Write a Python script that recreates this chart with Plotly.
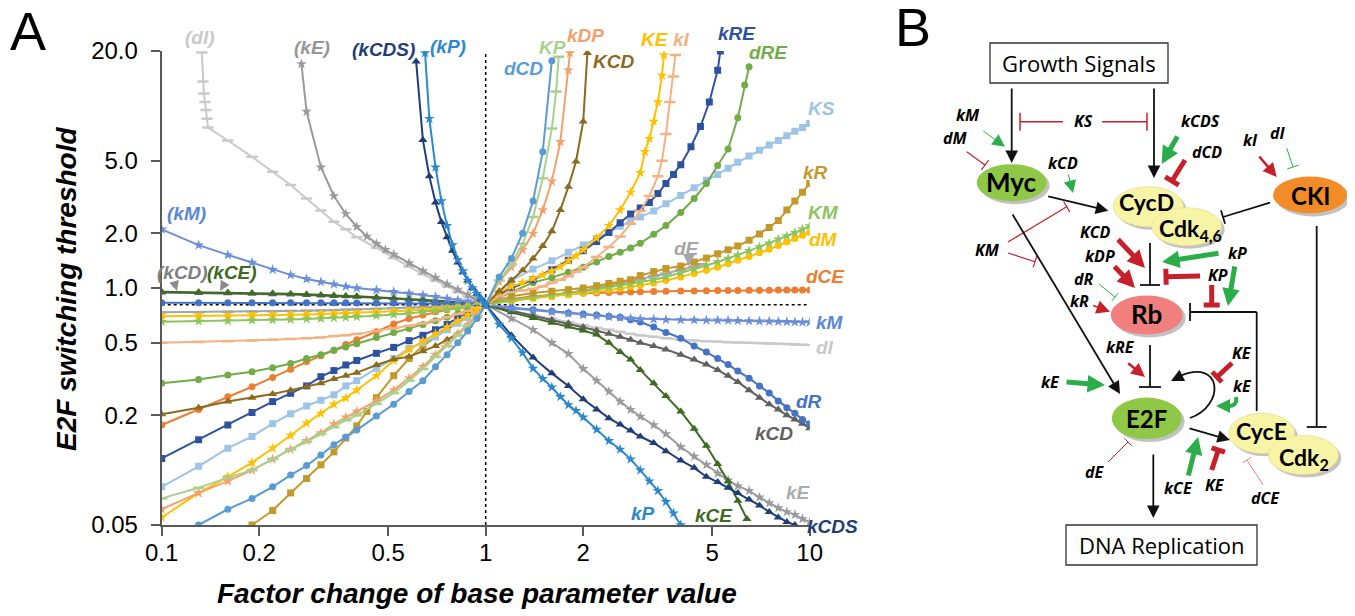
import math
import plotly.graph_objects as go

# the page body adds an 8px margin, so the figure is drawn 8px in from the window edge
OFF = 8
W, H = 1355 - OFF, 616 - OFF
def px(x): return (x - OFF) / W
def py(y): return 1 - (y - OFF) / H

# ---------------- data (panel A) ----------------
XL = [0.1, 0.13, 0.16, 0.19, 0.22, 0.25, 0.28, 0.31, 0.34, 0.37, 0.4, 0.46, 0.52, 0.58, 0.64, 0.7, 0.76, 0.82, 0.88, 0.94, 1.0]
XR = [1.0, 1.2, 1.4, 1.6, 1.8, 2.0, 2.2, 2.4, 2.6, 2.8, 3.0, 3.3, 3.6, 4.0, 4.4, 4.8, 5.2, 5.6, 6.0, 6.5, 7.0, 7.5, 8.0, 8.5, 9.0, 9.5, 10.0]

X_TICKS = [0.1, 0.2, 0.5, 1, 2, 5, 10]
X_TICK_TEXT = ["0.1", "0.2", "0.5", "1", "2", "5", "10"]
Y_TICKS = [0.05, 0.2, 0.5, 1, 2, 5, 20]
Y_TICK_TEXT = ["0.05", "0.2", "0.5", "1.0", "2.0", "5.0", "20.0"]
BASE_Y = 0.81

dCD_x = [0.13, 0.16, 0.19, 0.22, 0.25, 0.28, 0.31, 0.34, 0.37, 0.4, 0.46, 0.52, 0.58, 0.64, 0.7, 0.76, 0.82, 0.88, 0.94, 1.0,
         1.1, 1.2, 1.3, 1.4, 1.5, 1.6]
dCD_y = [0.05, 0.061, 0.07, 0.081, 0.094, 0.106, 0.121, 0.138, 0.152, 0.166, 0.198, 0.23, 0.27, 0.31, 0.37, 0.43, 0.50, 0.58, 0.68, 0.81,
         1.15, 1.45, 2.0, 3.0, 5.6, 17.7]

KP_x = XL + [1.1, 1.2, 1.3, 1.4, 1.5, 1.6, 1.65, 1.68]
KP_y = [0.07, 0.08, 0.091, 0.10, 0.115, 0.13, 0.143, 0.158, 0.172, 0.188, 0.20, 0.231, 0.265, 0.31, 0.36, 0.42, 0.48, 0.55, 0.62, 0.70, 0.81,
        1.1, 1.35, 1.75, 2.45, 4.0, 7.5, 12.0, 18.6]

kDP_x = XL + [1.1, 1.2, 1.3, 1.4, 1.5, 1.6, 1.7, 1.8, 1.82]
kDP_y = [0.061, 0.075, 0.087, 0.10, 0.115, 0.13, 0.145, 0.16, 0.179, 0.195, 0.21, 0.24, 0.275, 0.32, 0.37, 0.43, 0.49, 0.56, 0.63, 0.71, 0.81,
         1.08, 1.3, 1.62, 1.99, 2.68, 3.85, 6.35, 15.7, 19.5]

KCD_x = XL + [1.1, 1.2, 1.3, 1.4, 1.5, 1.6, 1.7, 1.8, 1.9, 2.0, 2.06]
KCD_y = [0.203, 0.22, 0.238, 0.25, 0.262, 0.275, 0.287, 0.30, 0.317, 0.33, 0.343, 0.378, 0.406, 0.42, 0.45, 0.48, 0.52, 0.56, 0.62, 0.70, 0.81,
         0.96, 1.1, 1.25, 1.45, 1.7, 2.05, 2.68, 3.6, 4.95, 8.2, 19.5]

KE_x = XL + [1.1, 1.2, 1.3, 1.4, 1.5, 1.6, 1.7, 1.8, 1.9, 2.0, 2.2, 2.4, 2.6, 2.8, 3.0, 3.1, 3.2, 3.3, 3.4, 3.5, 3.55]
KE_y = [0.055, 0.075, 0.092, 0.11, 0.132, 0.155, 0.181, 0.205, 0.23, 0.249, 0.275, 0.33, 0.40, 0.46, 0.51, 0.56, 0.61, 0.66, 0.71, 0.76, 0.81,
        0.95, 1.02, 1.07, 1.13, 1.18, 1.24, 1.31, 1.41, 1.5, 1.62, 1.88, 2.2, 2.68, 3.35, 4.3, 5.6, 6.6, 8.2, 10.5, 14.7, 19.0]

kI_x = XL + [1.1, 1.2, 1.3, 1.4, 1.5, 1.6, 1.7, 1.8, 1.9, 2.0, 2.2, 2.4, 2.6, 2.8, 3.0, 3.2, 3.4, 3.5, 3.6, 3.7, 3.8, 3.85]
kI_y = [0.50, 0.505, 0.51, 0.515, 0.52, 0.525, 0.53, 0.535, 0.545, 0.55, 0.56, 0.58, 0.60, 0.62, 0.64, 0.665, 0.69, 0.72, 0.75, 0.78, 0.81,
        0.9, 0.95, 0.97, 0.99, 1.02, 1.07, 1.11, 1.16, 1.23, 1.3, 1.48, 1.68, 1.92, 2.25, 2.65, 3.2, 4.1, 5.0, 7.0, 10.5, 14.5, 19.0]

kRE_x = XL + [1.1, 1.2, 1.4, 1.6, 1.8, 2.0, 2.2, 2.4, 2.6, 2.8, 3.0, 3.2, 3.4, 3.6, 3.8, 4.0, 4.3, 4.6, 4.9, 5.2, 5.3]
kRE_y = [0.116, 0.147, 0.177, 0.207, 0.238, 0.264, 0.29, 0.326, 0.352, 0.378, 0.40, 0.438, 0.472, 0.514, 0.55, 0.59, 0.63, 0.69, 0.73, 0.77, 0.81,
         0.92, 1.0, 1.11, 1.26, 1.42, 1.6, 1.8, 2.02, 2.28, 2.55, 2.75, 2.95, 3.3, 3.75, 4.2, 4.75, 5.96, 7.7, 10.5, 15.7, 20.0]

dRE_x = XL + [1.2, 1.4, 1.6, 1.8, 2.0, 2.2, 2.4, 2.6, 2.8, 3.0, 3.3, 3.6, 4.0, 4.4, 4.8, 5.2, 5.6, 6.0, 6.3, 6.5]
dRE_y = [0.30, 0.315, 0.333, 0.347, 0.365, 0.385, 0.41, 0.43, 0.455, 0.475, 0.495, 0.535, 0.57, 0.60, 0.63, 0.66, 0.69, 0.72, 0.75, 0.78, 0.81,
         0.95, 1.07, 1.14, 1.22, 1.3, 1.39, 1.49, 1.57, 1.66, 1.76, 1.97, 2.2, 2.6, 3.1, 3.75, 4.7, 5.8, 8.6, 13.0, 16.4]

KS_x = XL + XR[1:]
KS_y = [0.081, 0.105, 0.132, 0.153, 0.18, 0.204, 0.225, 0.242, 0.259, 0.29, 0.31, 0.362, 0.41, 0.466, 0.50, 0.54, 0.59, 0.64, 0.69, 0.75, 0.81,
        1.1, 1.27, 1.41, 1.57, 1.72, 1.87, 2.02, 2.18, 2.33, 2.45, 2.65, 2.9, 3.22, 3.55, 3.9, 4.2, 4.55, 4.9, 5.3, 5.7, 6.1, 6.45, 6.85, 7.25, 7.6, 8.0]

kR_x = [0.19, 0.22, 0.25, 0.28, 0.31, 0.34, 0.37, 0.4, 0.43, 0.46, 0.52, 0.58, 0.64, 0.7, 0.76, 0.82, 0.88, 0.94, 1.0] + XR[1:]
kR_y = [0.05, 0.06, 0.075, 0.09, 0.107, 0.126, 0.15, 0.175, 0.21, 0.25, 0.33, 0.41, 0.48, 0.54, 0.60, 0.65, 0.70, 0.75, 0.81,
        0.9, 0.94, 0.96, 0.98, 1.0, 1.03, 1.06, 1.09, 1.11, 1.17, 1.23, 1.28, 1.32, 1.39, 1.46, 1.54, 1.62, 1.7, 1.83, 1.98, 2.15, 2.35, 2.68, 3.0, 3.35, 3.75]

KM_x = XL + XR[1:]
KM_y = [0.653, 0.657, 0.66, 0.665, 0.668, 0.672, 0.676, 0.68, 0.685, 0.69, 0.695, 0.705, 0.715, 0.725, 0.74, 0.75, 0.765, 0.775, 0.79, 0.80, 0.81,
        0.86, 0.89, 0.91, 0.935, 0.96, 0.985, 1.01, 1.03, 1.055, 1.08, 1.11, 1.15, 1.21, 1.27, 1.33, 1.39, 1.45, 1.52, 1.6, 1.68, 1.76, 1.85, 1.93, 2.01, 2.1, 2.19]

dM_x = XL + XR[1:]
dM_y = [0.70, 0.702, 0.705, 0.708, 0.71, 0.713, 0.716, 0.72, 0.723, 0.727, 0.73, 0.738, 0.745, 0.752, 0.76, 0.768, 0.776, 0.784, 0.792, 0.80, 0.81,
        0.85, 0.875, 0.895, 0.915, 0.935, 0.955, 0.975, 0.995, 1.015, 1.035, 1.065, 1.1, 1.15, 1.2, 1.25, 1.3, 1.36, 1.42, 1.49, 1.56, 1.63, 1.71, 1.79, 1.87, 1.95, 2.02]

dCE_x = XL + XR[1:]
dCE_y = [0.177, 0.215, 0.253, 0.287, 0.323, 0.358, 0.395, 0.425, 0.455, 0.49, 0.52, 0.575, 0.635, 0.68, 0.71, 0.74, 0.76, 0.775, 0.79, 0.80, 0.81,
         0.87, 0.9, 0.915, 0.925, 0.935, 0.94, 0.945, 0.95, 0.952, 0.955, 0.958, 0.96, 0.962, 0.964, 0.966, 0.968, 0.969, 0.97, 0.971, 0.972, 0.973, 0.974, 0.974, 0.975, 0.975, 0.975]

dE_x = XL + [1.2, 1.4, 1.6, 1.8, 2.0, 2.2, 2.4, 2.6, 2.8, 3.0, 3.3, 3.6, 4.0, 4.4, 4.6]
dE_y = [0.735, 0.737, 0.74, 0.742, 0.745, 0.748, 0.75, 0.753, 0.756, 0.76, 0.763, 0.768, 0.774, 0.78, 0.785, 0.79, 0.795, 0.80, 0.803, 0.806, 0.81,
        0.85, 0.88, 0.91, 0.94, 0.97, 1.0, 1.03, 1.06, 1.09, 1.12, 1.16, 1.2, 1.26, 1.31, 1.35]

kM_x = XL + XR[1:]
kM_y = [2.1, 1.72, 1.52, 1.38, 1.26, 1.18, 1.12, 1.08, 1.05, 1.02, 1.0, 0.975, 0.955, 0.935, 0.915, 0.895, 0.875, 0.86, 0.845, 0.825, 0.81,
        0.775, 0.755, 0.74, 0.725, 0.712, 0.703, 0.695, 0.688, 0.682, 0.677, 0.673, 0.67, 0.668, 0.667, 0.666, 0.665, 0.664, 0.662, 0.66, 0.658, 0.656, 0.654, 0.652, 0.65, 0.649, 0.648]

dI_x = [0.133, 0.134, 0.135, 0.136, 0.137, 0.138, 0.139, 0.16, 0.19, 0.22, 0.25, 0.28, 0.31, 0.34, 0.37, 0.4, 0.46, 0.52, 0.58, 0.64, 0.7, 0.76, 0.82, 0.88, 0.94, 1.0] + XR[1:]
dI_y = [19.6, 13.6, 11.7, 10.5, 9.5, 8.5, 7.6, 6.45, 5.25, 4.35, 3.68, 3.1, 2.66, 2.31, 2.1, 1.9, 1.66, 1.46, 1.31, 1.19, 1.1, 1.02, 0.95, 0.9, 0.85, 0.81,
        0.75, 0.71, 0.68, 0.65, 0.625, 0.605, 0.59, 0.575, 0.56, 0.55, 0.54, 0.53, 0.52, 0.515, 0.51, 0.507, 0.504, 0.502, 0.50, 0.498, 0.496, 0.494, 0.492, 0.49, 0.488, 0.487]

dR_x = XL + XR[1:]
dR_y = [0.83, 0.83, 0.83, 0.83, 0.83, 0.83, 0.83, 0.83, 0.83, 0.829, 0.828, 0.827, 0.826, 0.825, 0.823, 0.821, 0.819, 0.817, 0.815, 0.812, 0.81,
        0.78, 0.76, 0.745, 0.73, 0.72, 0.71, 0.70, 0.69, 0.67, 0.65, 0.61, 0.57, 0.53, 0.48, 0.445, 0.41, 0.38, 0.35, 0.32, 0.29, 0.265, 0.24, 0.22, 0.205, 0.19, 0.18]

kCD_x = XL + XR[1:]
kCD_y = [0.945, 0.94, 0.935, 0.93, 0.925, 0.92, 0.915, 0.91, 0.905, 0.90, 0.895, 0.885, 0.875, 0.865, 0.858, 0.85, 0.84, 0.83, 0.822, 0.815, 0.81,
         0.75, 0.705, 0.67, 0.64, 0.61, 0.585, 0.56, 0.54, 0.52, 0.50, 0.48, 0.46, 0.43, 0.405, 0.38, 0.355, 0.33, 0.305, 0.275, 0.25, 0.23, 0.215, 0.20, 0.19, 0.18, 0.17]

kE_x = [0.27, 0.28, 0.31, 0.34, 0.37, 0.4, 0.43, 0.46, 0.49, 0.52, 0.58, 0.64, 0.7, 0.76, 0.82, 0.88, 0.94, 1.0] + XR[1:]
kE_y = [17.0, 9.3, 4.6, 3.2, 2.55, 2.17, 1.92, 1.75, 1.62, 1.53, 1.37, 1.24, 1.14, 1.05, 0.98, 0.92, 0.86, 0.81,
        0.68, 0.59, 0.50, 0.435, 0.36, 0.31, 0.27, 0.238, 0.215, 0.197, 0.177, 0.158, 0.134, 0.119, 0.107, 0.096, 0.088, 0.082, 0.077, 0.071, 0.066, 0.062, 0.059, 0.057, 0.054, 0.052]

kCE_x = XL + [1.2, 1.4, 1.6, 1.8, 2.0, 2.2, 2.4, 2.6, 2.8, 3.0, 3.3, 3.6, 4.0, 4.4, 4.8, 5.2, 5.6, 6.0, 6.4]
kCE_y = [0.955, 0.95, 0.945, 0.94, 0.935, 0.93, 0.925, 0.915, 0.91, 0.905, 0.9, 0.89, 0.88, 0.87, 0.865, 0.855, 0.845, 0.835, 0.825, 0.815, 0.81,
         0.735, 0.685, 0.645, 0.615, 0.585, 0.555, 0.50, 0.445, 0.405, 0.355, 0.30, 0.255, 0.21, 0.169, 0.136, 0.108, 0.087, 0.068, 0.054]

kCDS_x = [0.61, 0.64, 0.67, 0.7, 0.73, 0.76, 0.79, 0.82, 0.85, 0.88, 0.91, 0.94, 0.97, 1.0,
          1.2, 1.4, 1.6, 1.8, 2.0, 2.2, 2.4, 2.6, 2.8, 3.0, 3.3, 3.6, 4.0, 4.4, 4.8, 5.2, 5.6, 6.0, 6.5, 7.0, 7.5, 8.0, 8.5, 9.0]
kCDS_y = [17.5, 6.5, 4.1, 2.95, 2.3, 1.9, 1.6, 1.38, 1.22, 1.1, 1.0, 0.93, 0.87, 0.81,
          0.55, 0.416, 0.34, 0.29, 0.245, 0.215, 0.193, 0.178, 0.165, 0.153, 0.141, 0.127, 0.113, 0.103, 0.092, 0.086, 0.08, 0.075, 0.069, 0.064, 0.059, 0.055, 0.052, 0.05]

kP_x = [0.65, 0.67, 0.7, 0.73, 0.76, 0.79, 0.82, 0.85, 0.88, 0.91, 0.94, 0.97, 1.0,
        1.1, 1.2, 1.3, 1.4, 1.5, 1.6, 1.7, 1.8, 1.9, 2.0, 2.2, 2.4, 2.6, 2.8, 3.0, 3.2, 3.4, 3.6, 3.8, 4.0]
kP_y = [19.5, 8.5, 4.6, 3.0, 2.2, 1.72, 1.43, 1.24, 1.1, 1.0, 0.93, 0.87, 0.81,
        0.63, 0.53, 0.44, 0.362, 0.318, 0.285, 0.253, 0.228, 0.212, 0.195, 0.167, 0.145, 0.13, 0.115, 0.1, 0.087, 0.077, 0.067, 0.058, 0.05]

# (name, x, y, color, marker)
SERIES = [
    ("dI", dI_x, dI_y, "#C9C9C9", "line-ew"),
    ("kE", kE_x, kE_y, "#9A9A9A", "star"),
    ("dE", dE_x, dE_y, "#A5A5A5", "line-ew"),
    ("kCD", kCD_x, kCD_y, "#606060", "triangle-up"),
    ("kCE", kCE_x, kCE_y, "#3D6B23", "triangle-up"),
    ("dR", dR_x, dR_y, "#4472C4", "circle"),
    ("kM", kM_x, kM_y, "#6A8FD8", "star"),
    ("dCE", dCE_x, dCE_y, "#ED7D31", "circle"),
    ("dM", dM_x, dM_y, "#FFC000", "circle"),
    ("KM", KM_x, KM_y, "#8CC55E", "star"),
    ("kR", kR_x, kR_y, "#C39A2A", "square"),
    ("KS", KS_x, KS_y, "#9DC3E6", "square"),
    ("dRE", dRE_x, dRE_y, "#70AD47", "circle"),
    ("kRE", kRE_x, kRE_y, "#2F52A0", "square"),
    ("kI", kI_x, kI_y, "#F4B183", "line-ew"),
    ("KE", KE_x, KE_y, "#FFC000", "star"),
    ("KCD", KCD_x, KCD_y, "#8C6A1E", "triangle-up"),
    ("kDP", kDP_x, kDP_y, "#F4A06B", "star"),
    ("KP", KP_x, KP_y, "#A9D18E", "line-ew"),
    ("dCD", dCD_x, dCD_y, "#5B9BD5", "circle"),
    ("kCDS", kCDS_x, kCDS_y, "#1F3E78", "triangle-up"),
    ("kP", kP_x, kP_y, "#2B88CF", "star"),
]

fig = go.Figure()

# reference dotted lines
fig.add_trace(go.Scatter(x=[0.1, 10], y=[BASE_Y, BASE_Y], mode="lines",
                         line=dict(color="black", width=1.5, dash="dot"), hoverinfo="skip"))
fig.add_trace(go.Scatter(x=[1, 1], y=[0.05, 20], mode="lines",
                         line=dict(color="black", width=1.5, dash="dot"), hoverinfo="skip"))

for name, xs, ys, col, sym in SERIES:
    mk = dict(symbol=sym, size=7, color=col)
    if sym == "line-ew":
        mk.update(size=8, line=dict(color=col, width=2.5))
    elif sym in ("star", "triangle-up"):
        mk.update(size=8)
    fig.add_trace(go.Scatter(x=xs, y=ys, mode="lines+markers", name=name,
                             line=dict(color=col, width=2), marker=mk))

axis_font = dict(family="Liberation Sans, Arial", size=24, color="black")
fig.update_xaxes(type="log", range=[-1, 1], domain=[px(161.7), px(809.7)], automargin=False,
                 showline=True, linecolor="#595959", linewidth=2, ticks="outside",
                 ticklen=9, tickwidth=1.5, tickcolor="#595959",
                 tickvals=X_TICKS, ticktext=X_TICK_TEXT, tickfont=axis_font,
                 ticklabelstandoff=-4, showgrid=False, zeroline=False)
fig.update_yaxes(type="log", range=[math.log10(0.05), math.log10(20)], domain=[py(525), py(51)], automargin=False,
                 showline=True, linecolor="#595959", linewidth=2, ticks="outside",
                 ticklen=9, tickwidth=1.5, tickcolor="#595959",
                 tickvals=Y_TICKS, ticktext=Y_TICK_TEXT, tickfont=axis_font,
                 ticklabelstandoff=8, showgrid=False, zeroline=False)

ann = []
shapes = []

def text(t, x, y, size, color="black", family="Liberation Sans, Arial", angle=0, bold=False, italic=False):
    s = t
    if italic:
        s = "<i>" + s + "</i>"
    if bold:
        s = "<b>" + s + "</b>"
    ann.append(dict(text=s, x=px(x), y=py(y), xref="paper", yref="paper", showarrow=False,
                    xanchor="center", yanchor="middle", textangle=angle,
                    font=dict(family=family, size=size, color=color)))

def arrow(x0, y0, x1, y1, color, width, size=1.0, head=2):
    ann.append(dict(text="", x=px(x1), y=py(y1), xref="paper", yref="paper",
                    ax=x0 - x1, ay=y0 - y1, showarrow=True, arrowhead=head,
                    arrowsize=size, arrowwidth=width, arrowcolor=color, standoff=0))

def line(x0, y0, x1, y1, color, width):
    shapes.append(dict(type="line", xref="paper", yref="paper", x0=px(x0), y0=py(y0),
                       x1=px(x1), y1=py(y1), line=dict(color=color, width=width)))

def tbar(x0, y0, x1, y1, color, width, bar):
    line(x0, y0, x1, y1, color, width)
    dx, dy = x1 - x0, y1 - y0
    L = math.hypot(dx, dy)
    nx, ny = -dy / L, dx / L
    line(x1 + nx * bar / 2, y1 + ny * bar / 2, x1 - nx * bar / 2, y1 - ny * bar / 2, color, width)

def ellipse(cx, cy, rx, ry, fill, edge=None):
    shapes.append(dict(type="circle", xref="paper", yref="paper",
                       x0=px(cx - rx + 3), x1=px(cx + rx + 3), y0=py(cy + ry + 3), y1=py(cy - ry + 3),
                       fillcolor="rgba(120,120,120,0.45)", line=dict(width=0)))
    shapes.append(dict(type="circle", xref="paper", yref="paper",
                       x0=px(cx - rx), x1=px(cx + rx), y0=py(cy + ry), y1=py(cy - ry),
                       fillcolor=fill, line=dict(width=0.8 if edge else 0, color=edge or fill)))

def rect(x0, y0, x1, y1):
    shapes.append(dict(type="rect", xref="paper", yref="paper", x0=px(x0), x1=px(x1),
                       y0=py(y1), y1=py(y0), line=dict(color="#333333", width=1.3), fillcolor="white"))

# -------- panel A texts --------
text("A", 28, 31, 54)
text("E2F switching threshold", 66, 289, 28, bold=True, italic=True, angle=-90)
text("Factor change of base parameter value", 477, 593, 28, bold=True, italic=True)

LABELS = [
    ("(dI)", 200, 37, "#C9C9C9"), ("(kE)", 312, 47, "#969696"), ("(kCDS)", 383, 49, "#1F3E78"),
    ("(kP)", 448, 46, "#2B88CF"), ("dCD", 523, 68, "#5B9BD5"), ("KP", 552, 47, "#A9D18E"),
    ("kDP", 585, 36, "#F4A06B"), ("KCD", 613, 62, "#8C6A1E"), ("KE", 655, 40, "#FFC000"),
    ("kI", 682, 40, "#F4B183"), ("kRE", 737, 33, "#2F52A0"), ("dRE", 768, 52, "#70AD47"),
    ("KS", 821, 108, "#9DC3E6"), ("kR", 815, 172, "#C39A2A"), ("KM", 823, 212, "#8CC55E"),
    ("dM", 823, 240, "#FFC000"), ("dCE", 826, 277, "#ED7D31"), ("dE", 687, 248, "#A5A5A5"),
    ("kM", 830, 322, "#5B87D6"), ("dI", 825, 347, "#C9C9C9"), ("dR", 809, 401, "#4472C4"),
    ("kCD", 774, 433, "#606060"), ("kE", 798, 492, "#ABABAB"), ("kCDS", 832, 526, "#1F3E78"),
    ("kP", 643, 513, "#2B88CF"), ("kCE", 714, 515, "#3D6B23"), ("(kM)", 187, 213, "#5B87D6"),
    ("(kCD)", 182, 272, "#808080"), ("(kCE)", 232, 272, "#3D6B23"),
]
for t, x, y, c in LABELS:
    text(t, x, y, 19, color=c, bold=True, italic=True)
arrow(174, 281, 177, 291, "#8C8C8C", 1, 2)
arrow(226, 281, 220, 291, "#8C8C8C", 1, 2)
arrow(689, 256, 689, 266, "#A5A5A5", 1.2, 2)

# -------- panel B --------
RED = "#C8202A"
GREEN = "#2BAE4A"
BLK = "#111111"
BF = "Open Sans, Lato"
text("B", 913, 27, 54)

rect(990, 43, 1168, 83)
text("Growth Signals", 1079, 63, 22, family=BF)
rect(1066, 525, 1257, 565)
text("DNA Replication", 1161.5, 545, 22, family=BF)

arrow(1011.7, 87, 1011.7, 163, BLK, 1.8, 1.4)
arrow(1154, 87, 1154, 178, BLK, 1.8, 1.4)
tbar(1063, 121.7, 1020, 121.7, RED, 1.5, 18)
tbar(1102, 121.7, 1147, 121.7, RED, 1.5, 18)
arrow(981.7, 130, 1005, 146.7, GREEN, 1, 2.5)
tbar(966.7, 151.7, 985, 165, RED, 1.2, 12)
arrow(1068, 173, 1073, 193, GREEN, 1, 2.5)
arrow(1046.7, 196, 1108.3, 210.7, BLK, 1.8, 1.4)
arrow(1178.3, 135, 1161.7, 164, GREEN, 5, 0.7)
tbar(1185, 160, 1172, 181, RED, 5, 16)
arrow(1258, 155, 1276.7, 177, RED, 2.5, 1.1)
tbar(1286.7, 148, 1293, 167, GREEN, 1, 12)
tbar(1270, 202.7, 1223, 217, BLK, 1.8, 14)
tbar(1316.7, 226, 1316.7, 427, BLK, 1.8, 20)
tbar(1008, 242, 1066.7, 206.7, RED, 1.2, 12)
tbar(1008, 253, 1035, 261.7, RED, 1.2, 12)
arrow(1011.7, 213, 1120, 394, BLK, 1.8, 1.4)
arrow(1116.7, 238, 1145, 268, RED, 5, 0.7)
arrow(1113, 265, 1135, 288, RED, 5, 0.7)
tbar(1099, 284, 1115, 297, GREEN, 1, 10)
arrow(1091.7, 305, 1110, 311.7, RED, 1.5, 1.8)
tbar(1150, 243, 1150, 285, BLK, 1.8, 20)
arrow(1220, 253, 1162, 262, GREEN, 5, 0.7)
tbar(1200, 276, 1166, 276.7, RED, 5, 16)
tbar(1211.7, 285, 1211.7, 305, RED, 5, 16)
arrow(1235, 265, 1228, 306, GREEN, 5, 0.7)
line(1256.7, 411, 1256.7, 312, BLK, 1.8)
tbar(1256.7, 312, 1190, 312, BLK, 1.8, 18)
tbar(1150, 345, 1150, 387, BLK, 1.8, 22)
arrow(1126.7, 362, 1145, 377, RED, 2.5, 1.1)
arrow(1065, 382, 1105, 385, GREEN, 5, 0.7)
shapes.append(dict(type="path", xref="paper", yref="paper",
                   path="M {},{} C {},{} {},{} {},{}".format(px(1190), py(418), px(1226), py(405),
                                                           px(1222), py(358), px(1180), py(376)),
                   line=dict(color=BLK, width=1.8)))
arrow(1181, 376, 1171, 381, BLK, 1.8, 1.4)
tbar(1232, 363, 1217, 377, RED, 5, 14)
shapes.append(dict(type="path", xref="paper", yref="paper",
                   path="M {},{} Q {},{} {},{}".format(px(1236), py(397), px(1238), py(407), px(1226), py(406)),
                   line=dict(color=GREEN, width=4)))
arrow(1227, 406, 1216, 406, GREEN, 4, 0.7)
arrow(1188, 428, 1230, 440, BLK, 1.8, 1.4)
arrow(1188, 477, 1198, 437, GREEN, 5, 0.7)
tbar(1211.7, 470, 1218.3, 450, RED, 5, 14)
tbar(1263, 485, 1247, 460, "#E08080", 1, 10)
tbar(1108, 462, 1128, 442, RED, 1, 10)
arrow(1153.3, 453, 1153.3, 518, BLK, 1.8, 1.4)

# nodes
ellipse(1011.7, 182.7, 35, 18.5, "#8FC846")
ellipse(1148.3, 206.7, 35, 20, "#F8F4A6", "#E8E090")
ellipse(1186.7, 226.7, 35, 19, "#F8F4A6", "#E8E090")
ellipse(1310, 195, 37, 18.5, "#F28C28")
ellipse(1146.7, 315, 36, 19.5, "#F17F7D")
ellipse(1146.7, 418.3, 35, 20.7, "#8FC846")
ellipse(1261.7, 433.3, 33, 20, "#F8F4A6", "#E8E090")
ellipse(1303.3, 455, 35, 19.5, "#F8F4A6", "#E8E090")

NF = "Lato, Open Sans"
text("Myc", 1011.7, 182, 26, family=NF, bold=True)
text("CycD", 1146, 202, 23, family=NF, bold=True)
text("Cdk<sub>4,6</sub>", 1190, 230, 23, family=NF, bold=True)
text("CKI", 1310, 195, 24, family=NF, bold=True)
text("Rb", 1146.7, 314, 26, family=NF, bold=True)
text("E2F", 1146.7, 418, 24, family=NF, bold=True)
text("CycE", 1261, 431, 23, family=NF, bold=True)
text("Cdk<sub>2</sub>", 1304, 458, 23, family=NF, bold=True)

BLABELS = [
    ("kM", 968, 115), ("dM", 955, 138), ("KS", 1083, 121), ("kCD", 1063, 163),
    ("kCDS", 1200, 121), ("dCD", 1207, 152), ("kI", 1250, 140), ("dI", 1278, 133),
    ("KM", 987, 250), ("KCD", 1095, 232), ("kDP", 1100, 256), ("dR", 1084, 279),
    ("kR", 1079, 301), ("kP", 1237, 253), ("KP", 1218, 275), ("kRE", 1120, 347),
    ("kE", 1050, 382), ("KE", 1242, 353), ("kE", 1242, 386), ("kCE", 1178, 488),
    ("KE", 1215, 485), ("dCE", 1265, 498), ("dE", 1095, 472),
]
for t, x, y in BLABELS:
    text(t, x, y, 16, family=BF, bold=True, italic=True)

fig.update_layout(width=W, height=H, margin=dict(l=0, r=0, t=0, b=0),
                  paper_bgcolor="white", plot_bgcolor="white", showlegend=False,
                  annotations=ann, shapes=shapes)
fig.write_html("out.html")
